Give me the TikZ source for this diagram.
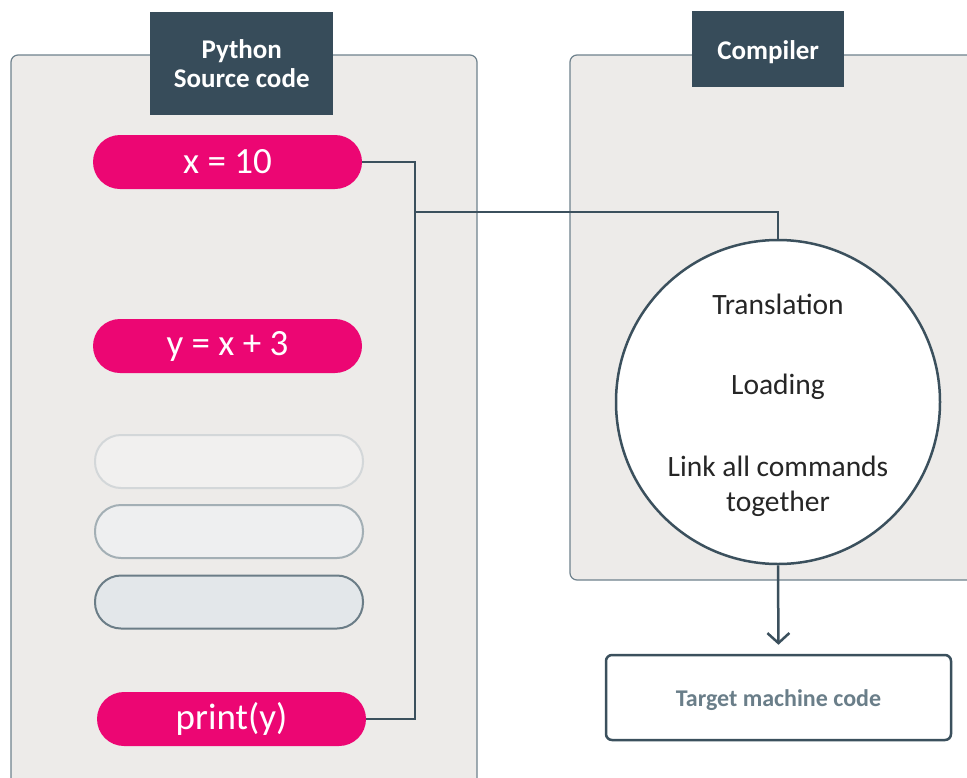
\documentclass[tikz,border=0pt]{standalone}
\usepackage{fontspec}
\setmainfont{Carlito}
\usetikzlibrary{arrows.meta}

\definecolor{slate}{HTML}{374C5A}
\definecolor{wire}{HTML}{3B505D}
\definecolor{panelbg}{HTML}{EDEBE9}
\definecolor{panelrule}{HTML}{6F828D}
\definecolor{magenta}{HTML}{EC0673}
\definecolor{mutedtext}{HTML}{6A7E89}
\definecolor{ghostafill}{HTML}{F1F0EF}
\definecolor{ghostarule}{HTML}{D3D7D9}
\definecolor{ghostbfill}{HTML}{EEEFF0}
\definecolor{ghostbrule}{HTML}{A3AFB5}
\definecolor{ghostcfill}{HTML}{E3E7EA}
\definecolor{ghostcrule}{HTML}{6B7D87}

\tikzset{
  panel/.style={draw=panelrule, line width=1.2pt, fill=panelbg, rounded corners=7pt},
  header/.style={fill=slate, text=white, font=\fontsize{27}{29}\selectfont\bfseries,
    align=center, inner sep=0pt, anchor=north west},
  pill/.style={fill=magenta, text=white, rounded corners=27pt, minimum width=269pt,
    minimum height=54pt, inner sep=0pt, font=\fontsize{37}{40}\selectfont},
  ghost/.style={rounded corners=26pt, minimum width=268pt, minimum height=53pt,
    inner sep=0pt, line width=2pt},
  wireline/.style={draw=wire, line width=2.5pt},
  circtext/.style={text=black!85, font=\fontsize{29.5}{35}\selectfont, align=center},
}

\begin{document}
\begin{tikzpicture}[x=1pt, y=-1pt]
  \useasboundingbox (0,0) rectangle (967,777);
  \clip (0,0) rectangle (967,777);
  \fill[white] (0,0) rectangle (967,777);

  % panels (they run past the page edges)
  \draw[panel] (11,55) rectangle (477,800);
  \draw[panel] (570,55) rectangle (990,580);

  % panel headers
  \node[header, minimum width=183pt, minimum height=103pt] (hsrc) at (150,12)
    {Python\\Source code};
  \node[header, minimum width=152pt, minimum height=76pt] (hcomp) at (692,11)
    {\rule{0pt}{25pt}Compiler};

  % source lines
  \node[pill] (x10) at (227.5,162) {x = 10};
  \node[pill] (yx3) at (227.5,346) {y = x + 3};
  \node[ghost, draw=ghostarule, fill=ghostafill] (g1) at (229,461.5) {};
  \node[ghost, draw=ghostbrule, fill=ghostbfill] (g2) at (229,531.5) {};
  \node[ghost, draw=ghostcrule, fill=ghostcfill] (g3) at (229,602) {};
  \node[pill] (prn) at (231.5,719) {print(y)};

  % compiler stages
  \node[circle, draw=wire, line width=2.5pt, fill=white, minimum size=324pt,
    inner sep=0pt] (circ) at (778,402) {};
  \node[circtext] (t1) at (778,304) {Translation};
  \node[circtext] (t2) at (778,387) {Loading};
  \node[circtext] (t3) at (778,486) {Link all commands\\together};

  % output
  \node[draw=wire, line width=2.5pt, fill=white, rounded corners=6pt,
    minimum width=345pt, minimum height=85pt, inner sep=0pt,
    text=mutedtext, font=\fontsize{24}{28}\selectfont\bfseries] (target) at (778.5,697.5)
    {\rule{0pt}{23pt}Target machine code};

  % connectors
  \coordinate (bus) at (415,212);
  \draw[wireline] (x10.east) -- ++(53,0) |- (prn.east);
  \draw[wireline] (bus) -| (circ.north);
  \draw[wireline, -{Straight Barb[length=10pt, width=22pt, line width=2.5pt]},
    shorten >=9pt] (circ.south) -- (target.north);
\end{tikzpicture}
\end{document}
